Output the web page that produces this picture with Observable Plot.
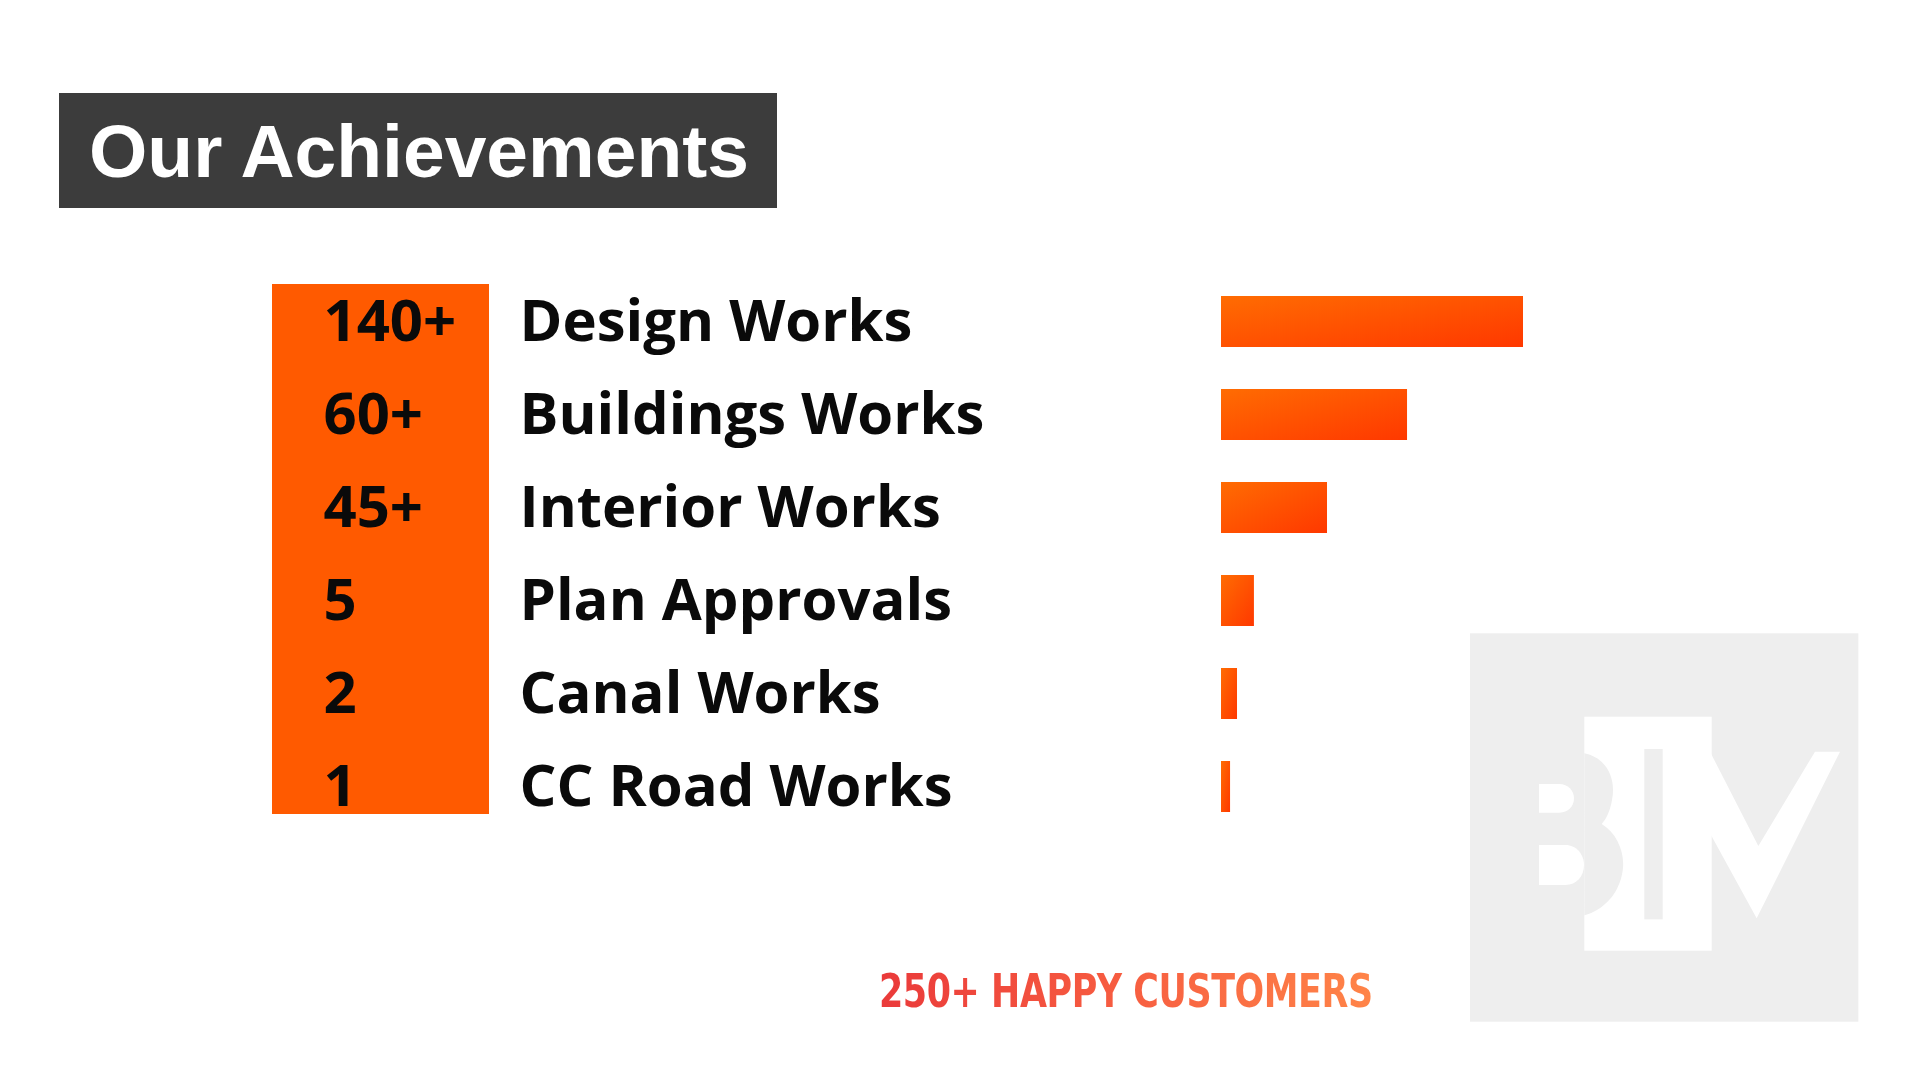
<!DOCTYPE html>
<html>
<head>
<meta charset="utf-8">
<script src="https://cdn.jsdelivr.net/npm/d3@7"></script>
<script src="https://cdn.jsdelivr.net/npm/@observablehq/plot@0.6"></script>
<style>
  html, body { margin: 0; padding: 0; background: #fff; }
  #stage { position: relative; width: 1920px; height: 1080px; overflow: hidden; background: #fff; }
  #title {
    position: absolute; left: 59px; top: 93px; width: 718px; height: 115px;
    background: #3c3c3c; color: #fff; box-sizing: border-box; padding-left: 30px;
    font-family: "Liberation Sans", Arial, sans-serif; font-weight: 700; font-size: 75px;
    line-height: 117px; white-space: nowrap;
  }
  #panel { position: absolute; left: 272px; top: 284px; width: 217px; height: 530px; background: #ff5a00; }
  #logo { position: absolute; left: 1460px; top: 620px; width: 420px; height: 420px; }
  #chart { position: absolute; left: 0; top: 0; }
  #caption {
    position: absolute; left: 879px; top: 961px; white-space: nowrap;
    font-family: "DejaVu Sans Condensed", "DejaVu Sans", sans-serif; font-weight: 700; font-size: 47px;
    line-height: 60px; letter-spacing: -0.5px;
    transform: scaleX(0.825); transform-origin: 0 0;
    background: linear-gradient(90deg, #ea3a3a 0%, #f65a40 45%, #ff8448 100%);
    -webkit-background-clip: text; background-clip: text; color: transparent;
  }
</style>
</head>
<body>
<div id="stage">
  <div id="title">Our Achievements</div>
  <div id="panel"></div>
  <svg id="logo" viewBox="0 0 1260 1260">
    <rect x="30" y="40" width="1165" height="1165" fill="#eeeeee"/>
    <rect x="373" y="290" width="382" height="702" fill="#ffffff"/>
    <rect x="553" y="387" width="55" height="511" fill="#eeeeee"/>
    <path d="M373,400 C435,412 470,470 456,540 C450,575 438,598 425,612 C472,640 496,700 488,752 C478,822 430,870 373,886 Z" fill="#eeeeee"/>
    <path d="M237,492 H298 C324,492 342,512 342,535 C342,560 324,578 298,578 H237 Z" fill="#ffffff"/>
    <path d="M237,675 H316 C350,675 372,704 372,735 C372,768 350,795 316,795 H237 Z" fill="#ffffff"/>
    <polygon points="750,395 895,678 1065,395 1140,395 890,895 750,640" fill="#ffffff"/>
  </svg>
  <div id="chart"></div>
  <div id="caption">250+ HAPPY CUSTOMERS</div>
</div>
<script>
// Data
const categories = ["Design Works", "Buildings Works", "Interior Works", "Plan Approvals", "Canal Works", "CC Road Works"];
const counts = ["140+", "60+", "45+", "5", "2", "1"];
// Relative bar lengths as drawn (longest bar = 100)
const barLengths = [100, 61.6, 35.1, 10.9, 5.3, 3.0];

const data = categories.map((c, i) => ({ category: c, count: counts[i], length: barLengths[i] }));

const chart = Plot.plot({
  width: 1920,
  height: 1080,
  marginLeft: 1221,
  marginRight: 397,
  marginTop: 274,
  marginBottom: 246,
  x: { domain: [0, 100], axis: null },
  y: { domain: categories, axis: null, padding: 0 },
  style: { background: "transparent", fontFamily: "'Open Sans', sans-serif", overflow: "visible" },
  marks: [
    Plot.barX(data, { y: "category", x: "length", fill: "url(#barGrad)", insetTop: 21, insetBottom: 21 }),
    Plot.text(data, { y: "category", text: "count", frameAnchor: "left", textAnchor: "start", dx: -898,
      fontSize: 58, fontWeight: 700, fill: "#0a0a0a" }),
    Plot.text(data, { y: "category", text: "category", frameAnchor: "left", textAnchor: "start", dx: -702,
      fontSize: 58, fontWeight: 700, fill: "#0a0a0a" })
  ]
});

const ns = "http://www.w3.org/2000/svg";
const defs = document.createElementNS(ns, "defs");
defs.innerHTML = '<linearGradient id="barGrad" x1="0" y1="0" x2="1" y2="1">' +
  '<stop offset="0" stop-color="#ff6c02"/><stop offset="1" stop-color="#ff3800"/></linearGradient>';
chart.insertBefore(defs, chart.firstChild);

document.getElementById("chart").appendChild(chart);
</script>
</body>
</html>
